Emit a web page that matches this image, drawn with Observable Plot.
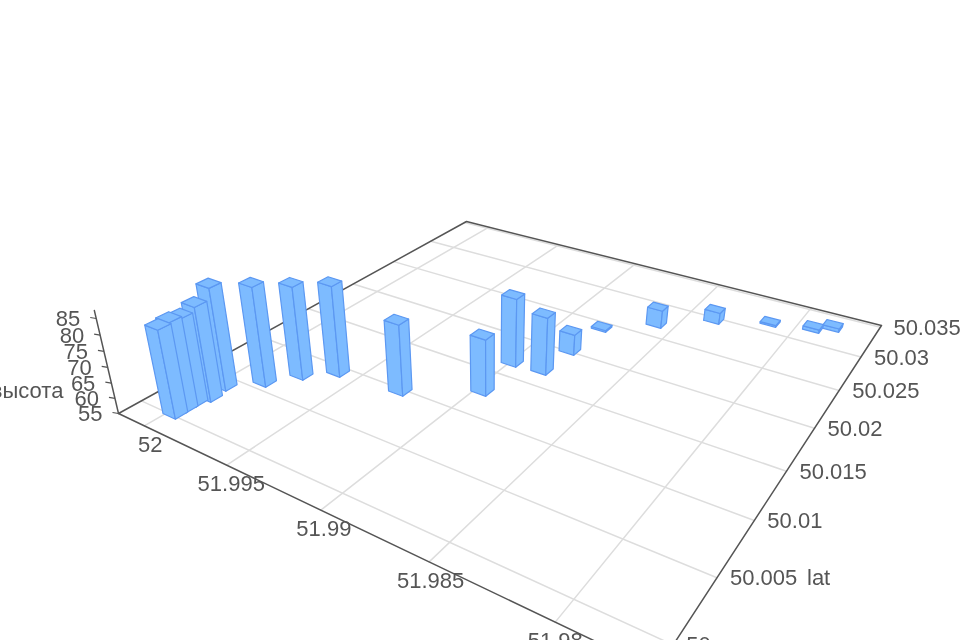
<!DOCTYPE html>
<html><head><meta charset="utf-8">
<script src="https://cdn.jsdelivr.net/npm/d3@7"></script>
<script src="https://cdn.jsdelivr.net/npm/@observablehq/plot@0.6"></script>
<style>html,body{margin:0;background:#fff}svg{display:block;filter:blur(.65px)}</style>
</head><body><div id="chart"></div>
<script>
// Chart values
const lons=[51.9997,51.9997,51.9997,51.99945,51.99959,51.99834,51.99737,51.99614,51.99274,51.98968,51.98992,51.98839,51.98822,51.98802,51.98593,51.98369,51.98122,51.97925,51.97847];
const lats=[50.00028,50.00108,50.00188,50.00275,50.00416,50.00589,50.00782,50.00941,50.00986,50.01271,50.01673,50.01694,50.02019,50.02422,50.02687,50.02966,50.03143,50.0322,50.03311];
const heights=[83,83.5,83,85.3,88.1,87.3,85.4,84.8,78.1,73.4,77.8,74.1,62,55.6,61.2,59,55.6,56.2,56.2];
const lonTicks=[52,51.995,51.99,51.985,51.98];
const latTicks=[50,50.005,50.01,50.015,50.02,50.025,50.03,50.035];
const zTicks=[55,60,65,70,75,80,85];
const zTitle="высота", latTitle="lat";

// Perspective camera: maps (lon, lat, height) to page coordinates
const lonMax=52.0017,lonMin=51.9765,latMin=49.9983,latMax=50.0353,zMin=55,zMax=87.35;
const dlon=.0008,dlat=.00095;
const p0=[118,413],p1=[656,670],p2=[881,325],p3=[466,221],VP=[490,2000],C=-.0609;
const dx1=p1[0]-p2[0],dx2=p3[0]-p2[0],sx=p0[0]-p1[0]+p2[0]-p3[0];
const dy1=p1[1]-p2[1],dy2=p3[1]-p2[1],sy=p0[1]-p1[1]+p2[1]-p3[1];
const den=dx1*dy2-dx2*dy1,g=(sx*dy2-dx2*sy)/den,h=(dx1*sy-sx*dy1)/den;
const a=p1[0]-p0[0]+g*p1[0],b=p3[0]-p0[0]+h*p3[0],c=p0[0],d=p1[1]-p0[1]+g*p1[1],e=p3[1]-p0[1]+h*p3[1],f=p0[1];
function proj(lon,lat,z){
  const u=(lonMax-lon)/(lonMax-lonMin),v=(lat-latMin)/(latMax-latMin),t=(z-zMin)/(zMax-zMin);
  const w=g*u+h*v+1+t*C;
  return [(a*u+b*v+c+t*C*VP[0])/w,(d*u+e*v+f+t*C*VP[1])/w];
}
const X=q=>q.p[0],Y=q=>q.p[1];

const grid=[];let gid=0;
for(const l of lonTicks){grid.push({id:gid,p:proj(l,latMin,zMin)},{id:gid,p:proj(l,latMax,zMin)});gid++;}
for(const l of latTicks){grid.push({id:gid,p:proj(lonMax,l,zMin)},{id:gid,p:proj(lonMin,l,zMin)});gid++;}
const border=[[lonMax,latMin],[lonMin,latMin],[lonMin,latMax],[lonMax,latMax],[lonMax,latMin]].map(q=>({p:proj(q[0],q[1],zMin)}));
const zAxis=[zMin,zMax].map(z=>({p:proj(lonMax,latMin,z)}));

// Bar faces, painted back to front
const bars=lons.map((lon,i)=>({lon,lat:lats[i],z:heights[i]}))
  .sort((m,n)=>proj(m.lon-dlon/2,m.lat-dlat/2,zMin)[1]-proj(n.lon-dlon/2,n.lat-dlat/2,zMin)[1]);
const faces=[];let fid=0;
for(const {lon,lat,z} of bars){
  const L=lon-dlon/2,R=lon+dlon/2,S=lat-dlat/2,N=lat+dlat/2;
  const polys=[
    [[R,S,zMin],[L,S,zMin],[L,S,z],[R,S,z]],
    [[L,S,zMin],[L,N,zMin],[L,N,z],[L,S,z]],
    [[R,S,z],[L,S,z],[L,N,z],[R,N,z]]
  ];
  for(const poly of polys){
    for(const q of [...poly,poly[0]]) faces.push({id:fid,p:proj(...q)});
    fid++;
  }
}

const font={fontFamily:'"Liberation Sans",Arial,sans-serif',fontSize:22,fill:"#555"};
const chart=Plot.plot({width:960,height:640,margin:0,x:{domain:[0,960],axis:null},y:{domain:[640,0],axis:null},marks:[
  Plot.line(grid,{x:X,y:Y,z:"id",stroke:"#ddd",strokeWidth:1.5}),
  Plot.line(border,{x:X,y:Y,stroke:"#555",strokeWidth:1.5}),
  Plot.line(zAxis,{x:X,y:Y,stroke:"#555",strokeWidth:1.5}),
  Plot.link(zTicks.map(z=>({p:proj(lonMax,latMin,z)})),{x1:X,y1:Y,x2:q=>q.p[0]-6,y2:q=>q.p[1]-1,stroke:"#555",strokeWidth:1.2}),
  Plot.line(faces,{x:X,y:Y,z:"id",fill:"#7dbbff",stroke:"#5c98f2",strokeWidth:1.2,strokeLinejoin:"round"}),
  Plot.text(lonTicks,{x:l=>proj(l,latMin,zMin)[0]+3+(l-51.99)*300,y:l=>proj(l,latMin,zMin)[1]+19,text:l=>String(l),textAnchor:"middle",...font}),
  Plot.text(latTicks,{x:l=>proj(lonMin,l,zMin)[0]+13,y:l=>proj(lonMin,l,zMin)[1]+.5,text:l=>String(l),textAnchor:"start",...font}),
  Plot.text(zTicks,{x:z=>proj(lonMax,latMin,z)[0],y:z=>proj(lonMax,latMin,z)[1],dx:-16,dy:0.5,text:z=>String(z),textAnchor:"end",...font}),
  Plot.text([zTitle],{x:proj(lonMax,latMin,63.5)[0],y:proj(lonMax,latMin,63.5)[1],dx:-49,dy:3,text:q=>q,textAnchor:"end",...font}),
  Plot.text([latTitle],{x:proj(lonMin,50.005,zMin)[0],y:proj(lonMin,50.005,zMin)[1],dx:90,dy:.5,text:q=>q,textAnchor:"start",...font})
]});
document.getElementById("chart").append(chart);
</script></body></html>
